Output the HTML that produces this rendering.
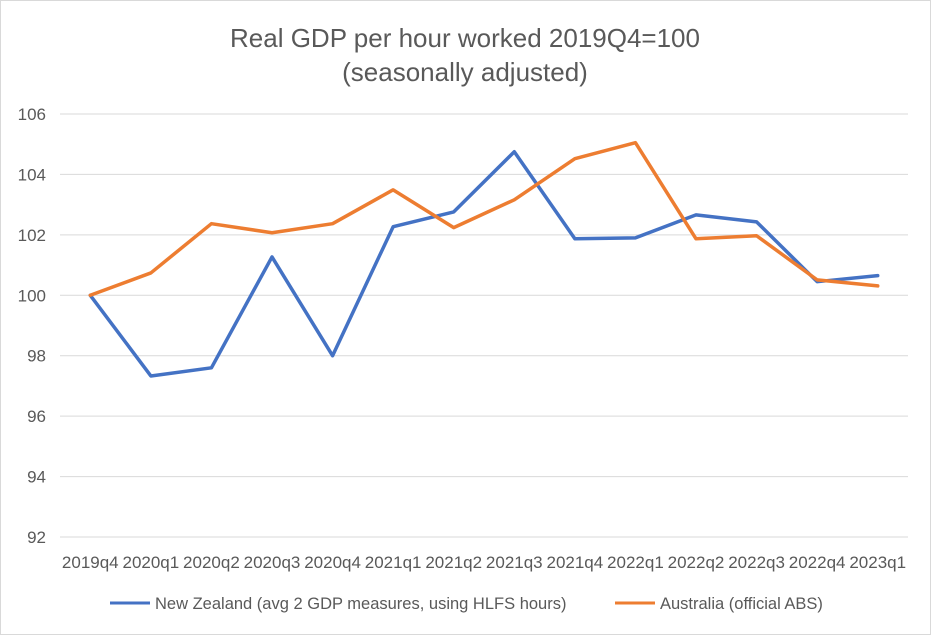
<!DOCTYPE html>
<html><head><meta charset="utf-8"><style>
html,body{margin:0;padding:0;background:#fff;}
svg{display:block;font-family:"Liberation Sans",sans-serif;}
</style></head><body>
<svg id="chart" width="931" height="635">
<rect x="0.5" y="0.5" width="930" height="634" fill="#fff" stroke="#d9d9d9"/>
<text x="465" y="47" text-anchor="middle" font-size="26" fill="#595959">Real GDP per hour worked 2019Q4=100</text>
<text x="465" y="81" text-anchor="middle" font-size="26" fill="#595959">(seasonally adjusted)</text>
<g id="grid"></g><g id="xlabels"></g><g id="series"></g>
<g>
<line x1="110" y1="603" x2="150" y2="603" stroke="#4472c4" stroke-width="3"/>
<text x="155" y="609" font-size="16.5" fill="#595959">New Zealand (avg 2 GDP measures, using HLFS hours)</text>
<line x1="615" y1="603" x2="655" y2="603" stroke="#ed7d31" stroke-width="3"/>
<text x="660" y="609" font-size="16.5" fill="#595959">Australia (official ABS)</text>
</g>
</svg>
<script>
const categories=["2019q4","2020q1","2020q2","2020q3","2020q4","2021q1","2021q2","2021q3","2021q4","2022q1","2022q2","2022q3","2022q4","2023q1"];
const nzValues=[100,97.33,97.6,101.27,98.0,102.27,102.76,104.75,101.87,101.9,102.66,102.43,100.45,100.65];
const auValues=[100,100.74,102.37,102.07,102.37,103.49,102.24,103.16,104.52,105.05,101.87,101.97,100.51,100.31];
const yTicks=[92,94,96,98,100,102,104,106];
const NS="http://www.w3.org/2000/svg";
const x0=60,x1=908,yTop=114,yBot=537,yMin=92,yMax=106;
const step=(x1-x0)/categories.length;
function xs(i){return x0+step*(i+0.5);}
function ys(v){return yBot-(v-yMin)/(yMax-yMin)*(yBot-yTop);}
const grid=document.getElementById('grid');
yTicks.forEach(t=>{
 const l=document.createElementNS(NS,'line');
 l.setAttribute('x1',x0);l.setAttribute('x2',x1);l.setAttribute('y1',ys(t));l.setAttribute('y2',ys(t));
 l.setAttribute('stroke','#d9d9d9');l.setAttribute('stroke-width','1');
 
 
 grid.appendChild(l);
 const tx=document.createElementNS(NS,'text');
 tx.setAttribute('x',46);tx.setAttribute('y',ys(t)+6);tx.setAttribute('text-anchor','end');
 tx.setAttribute('font-size','17');tx.setAttribute('fill','#595959');tx.textContent=t;
 
 
 grid.appendChild(tx);
});
const xl=document.getElementById('xlabels');
categories.forEach((c,i)=>{
 const tx=document.createElementNS(NS,'text');
 tx.setAttribute('x',xs(i));tx.setAttribute('y',568);tx.setAttribute('text-anchor','middle');
 tx.setAttribute('font-size','17');tx.setAttribute('fill','#595959');tx.textContent=c;
 
 
 xl.appendChild(tx);
});
const sg=document.getElementById('series');
function line(vals,color,name){
 const p=document.createElementNS(NS,'polyline');
 p.setAttribute('points',vals.map((v,i)=>xs(i)+','+ys(v)).join(' '));
 p.setAttribute('fill','none');p.setAttribute('stroke',color);p.setAttribute('stroke-width','3.5');
 p.setAttribute('stroke-linejoin','round');p.setAttribute('stroke-linecap','round');
 
 
 sg.appendChild(p);
}
line(nzValues,'#4472c4','nz-line');
line(auValues,'#ed7d31','au-line');
</script>
</body></html>
